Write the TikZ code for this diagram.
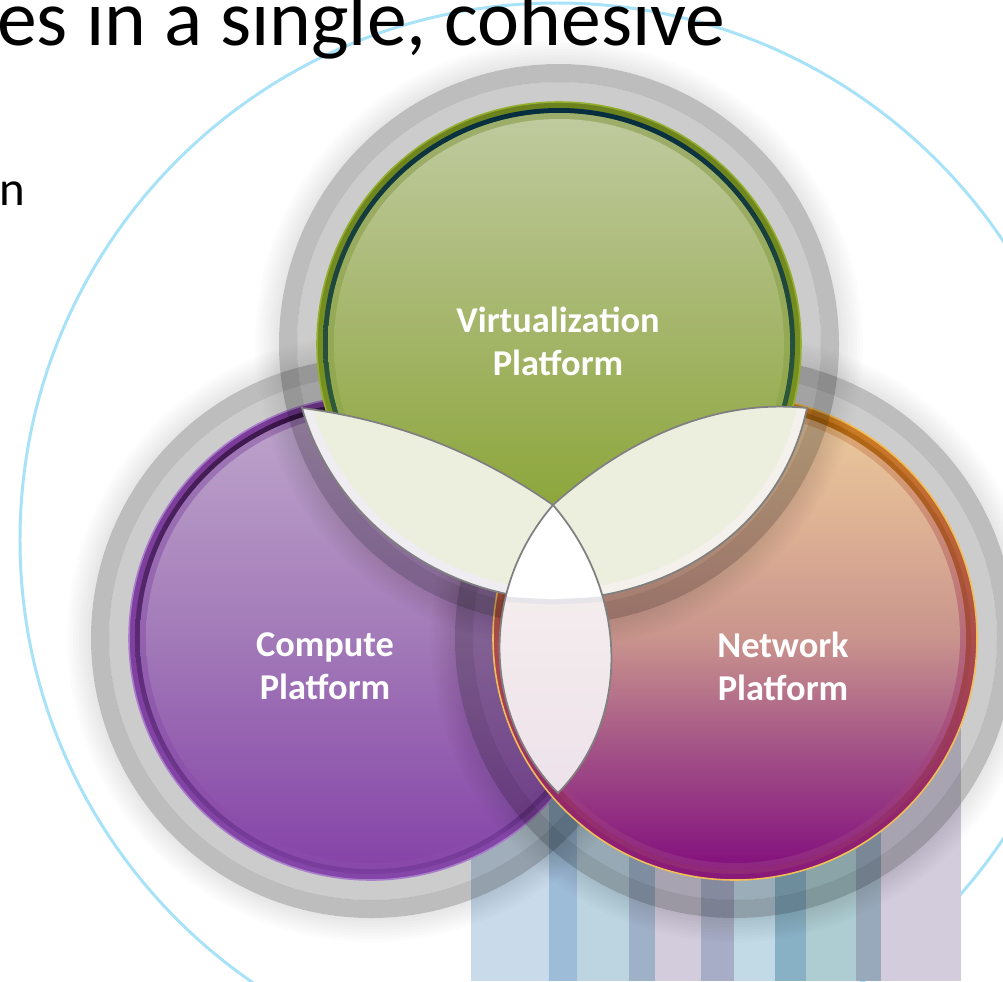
\documentclass[tikz,border=0pt]{standalone}
\usepackage{fontspec}
\setmainfont{Carlito}
\usepackage{tikz}
\usetikzlibrary{positioning}

\definecolor{skyline}{HTML}{A8E2F8}
\definecolor{lensline}{HTML}{808080}
\definecolor{lensfill}{HTML}{ECEFDE}
\definecolor{leafglowL}{HTML}{EFEDF2}
\definecolor{leafglowR}{HTML}{F4F1EC}
\definecolor{coreband}{HTML}{E8E5EA}
\definecolor{coretop}{HTML}{F7F1EF}
\definecolor{corebot}{HTML}{EDE2EA}

\definecolor{virtA}{HTML}{BFCA9E}
\definecolor{virtB}{HTML}{A2B466}
\definecolor{virtC}{HTML}{85A12A}
\definecolor{virtRim}{HTML}{94AF30}
\definecolor{virtBandT}{HTML}{6C821E}
\definecolor{virtBandB}{HTML}{7E9A22}
\definecolor{virtRingT}{HTML}{062D40}
\definecolor{virtRingB}{HTML}{46723A}
\definecolor{virtLiteT}{HTML}{9DAE6C}
\definecolor{virtLiteB}{HTML}{8AA43A}

\definecolor{compA}{HTML}{BEA4CB}
\definecolor{compB}{HTML}{A27AB8}
\definecolor{compC}{HTML}{8644A8}
\definecolor{compRim}{HTML}{A97FCB}
\definecolor{compBandT}{HTML}{7A3A97}
\definecolor{compBandB}{HTML}{8446A8}
\definecolor{compRingT}{HTML}{3A1748}
\definecolor{compRingB}{HTML}{7A3E9E}
\definecolor{compLiteT}{HTML}{9F7AB5}
\definecolor{compLiteB}{HTML}{8848A9}

\definecolor{netA}{HTML}{EBCA9B}
\definecolor{netB}{HTML}{DDB094}
\definecolor{netC}{HTML}{C9948D}
\definecolor{netD}{HTML}{A14F86}
\definecolor{netE}{HTML}{84137E}
\definecolor{netRim}{HTML}{F2BF57}
\definecolor{netBandT}{HTML}{D0821E}
\definecolor{netBandB}{HTML}{88187A}
\definecolor{netRingT}{HTML}{B46C0C}
\definecolor{netRingB}{HTML}{902878}
\definecolor{netLiteT}{HTML}{E0AE72}
\definecolor{netLiteB}{HTML}{8E2682}

\definecolor{stA}{HTML}{C9DAEA}
\definecolor{stB}{HTML}{9DBCD8}
\definecolor{stC}{HTML}{BDD4E1}
\definecolor{stD}{HTML}{9FB1C9}
\definecolor{stE}{HTML}{D2CCDD}
\definecolor{stF}{HTML}{A7ADC7}
\definecolor{stG}{HTML}{C2D9E6}
\definecolor{stH}{HTML}{89B1C5}
\definecolor{stI}{HTML}{ADCDD2}
\definecolor{stJ}{HTML}{99A9BC}

\pgfdeclareverticalshading{virtfill}{100bp}{color(0bp)=(virtC); color(25bp)=(virtC); color(50bp)=(virtB); color(75bp)=(virtA); color(100bp)=(virtA)}
\pgfdeclareverticalshading{compfill}{100bp}{color(0bp)=(compC); color(25bp)=(compC); color(50bp)=(compB); color(75bp)=(compA); color(100bp)=(compA)}
\pgfdeclareverticalshading{netfill}{100bp}{color(0bp)=(netE); color(25bp)=(netE); color(37bp)=(netD); color(50bp)=(netC); color(62bp)=(netB); color(75bp)=(netA); color(100bp)=(netA)}

\begin{document}
\begin{tikzpicture}[
  x=0.2mm, y=-0.2mm,
  soft/.style={fill=black, opacity=0.012, even odd rule},
  halo/.style={fill=black, opacity=0.2, even odd rule},
  halofar/.style={fill=black, opacity=0.26, even odd rule},
  leaf/.style={fill=lensfill},
  leafline/.style={draw=lensline, line width=1pt},
  lbl/.style={font=\bfseries\fontsize{20.7}{24.4}\selectfont, text=white,
              align=center, inner sep=0pt}]

  \useasboundingbox (0,0) rectangle (1003,981);
  \clip (0,0) rectangle (1003,981);

  \coordinate (hub) at (557,540);
  \coordinate (gc) at (559,344);
  \coordinate (pc) at (371,638);
  \coordinate (oc) at (735,638);

  \draw[skyline, line width=1.7pt] (hub) circle[radius=537];

  \node[font=\fontsize{45.3}{54}\selectfont, anchor=base west, inner sep=0pt] (title)
    at (-3,45) {es in a single, cohesive};
  \node[font=\fontsize{27.8}{32}\selectfont, anchor=base west, inner sep=0pt] (bullet)
    at (-1,205) {n};

  \foreach \xa/\xb/\col in {471/549/stA, 549/577/stB, 577/629/stC, 629/655/stD,
      655/701/stE, 701/734/stF, 734/775/stG, 775/806/stH, 806/856/stI,
      856/881/stJ, 881/961/stE}
    \fill[\col] (\xa,725) rectangle (\xb,981);

  \foreach \c/\rim/\bt/\bb/\rt/\rb/\lt/\lb/\shd in {
      pc/compRim/compBandT/compBandB/compRingT/compRingB/compLiteT/compLiteB/compfill,
      oc/netRim/netBandT/netBandB/netRingT/netRingB/netLiteT/netLiteB/netfill,
      gc/virtRim/virtBandT/virtBandB/virtRingT/virtRingB/virtLiteT/virtLiteB/virtfill} {
    \foreach \k in {1,...,8}
      \fill[soft] (\c) circle[radius=280+3*\k] (\c) circle[radius=280];
    \fill[halofar] (\c) circle[radius=280] (\c) circle[radius=262];
    \fill[halo] (\c) circle[radius=262] (\c) circle[radius=242];
    \shade[top color=\bt, bottom color=\bb] (\c) circle[radius=242];
    \shade[top color=\rt, bottom color=\rb, even odd rule]
      (\c) circle[radius=236] (\c) circle[radius=231];
    \shade[top color=\lt, bottom color=\lb] (\c) circle[radius=231];
    \shade[shading=\shd] (\c) circle[radius=225];
    \draw[\rim, line width=0.9pt] (\c) circle[radius=242];
  }

  \coordinate (lt) at (302,408);
  \coordinate (ap) at (553,505);
  \coordinate (rt) at (807,408);
  \coordinate (lb) at (553,600);
  \coordinate (bt) at (558,793);

  \fill[leaf] (lt) .. controls (402,421) and (483,456) .. (ap) -- (lb)
    .. controls (432,594) and (332,514) .. (lt) -- cycle;
  \begin{scope}
    \clip (lt) .. controls (402,421) and (483,456) .. (ap) -- (lb)
      .. controls (432,594) and (332,514) .. (lt) -- cycle;
    \draw[leafglowL, line width=11pt] (lb) .. controls (432,594) and (332,514) .. (lt);
  \end{scope}
  \draw[leafline] (lt) .. controls (402,421) and (483,456) .. (ap) -- (lb)
    .. controls (432,594) and (332,514) .. (lt) -- cycle;

  \fill[leaf] (ap) .. controls (623,442) and (712,398) .. (rt)
    .. controls (782,528) and (672,598) .. (lb) -- cycle;
  \begin{scope}
    \clip (ap) .. controls (623,442) and (712,398) .. (rt)
      .. controls (782,528) and (672,598) .. (lb) -- cycle;
    \draw[leafglowR, line width=11pt] (rt) .. controls (782,528) and (672,598) .. (lb);
  \end{scope}
  \draw[leafline] (ap) .. controls (623,442) and (712,398) .. (rt)
    .. controls (782,528) and (672,598) .. (lb) -- cycle;

  \shade[top color=coretop, bottom color=corebot] (ap) .. controls (628,592) and (632,718) .. (bt)
    .. controls (484,718) and (478,592) .. (ap) -- cycle;
  \begin{scope}
    \clip (ap) .. controls (628,592) and (632,718) .. (bt)
      .. controls (484,718) and (478,592) .. (ap) -- cycle;
    \fill[white] (460,480) -- (650,480) -- (650,582) .. controls (615,597) .. (lb)
      .. controls (490,597) .. (460,582) -- cycle;
    \draw[coreband, line width=3pt] (460,584) .. controls (490,599) .. (553,602)
      .. controls (615,599) .. (650,584);
  \end{scope}
  \draw[leafline] (ap) .. controls (628,592) and (632,718) .. (bt)
    .. controls (484,718) and (478,592) .. (ap) -- cycle;

  \node[lbl] (virt) at (558,341) {Virtualization\\Platform};
  \node[lbl] (comp) at (325,666) {Compute\\Platform};
  \node[lbl] (netw) at (783,666) {Network\\Platform};
\end{tikzpicture}
\end{document}
